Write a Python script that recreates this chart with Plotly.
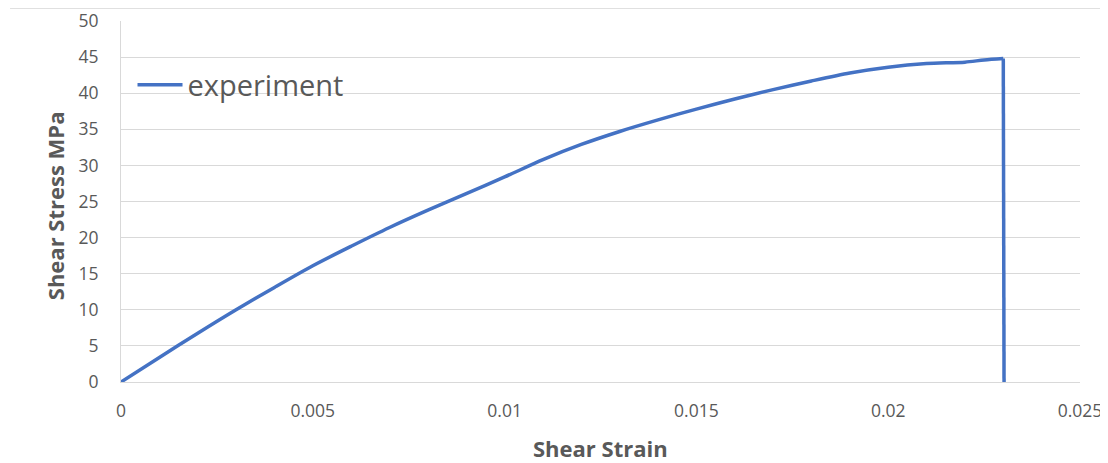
import plotly.graph_objects as go

strain = [0, 0.001, 0.002, 0.003, 0.004, 0.005, 0.006, 0.007, 0.008, 0.009,
          0.010, 0.011, 0.012, 0.013, 0.014, 0.015, 0.016, 0.017, 0.018,
          0.019, 0.020, 0.021, 0.022, 0.0225, 0.0230]
stress = [0, 3.4, 6.75, 10.0, 13.1, 16.1, 18.8, 21.4, 23.8, 26.1,
          28.4, 30.8, 32.9, 34.7, 36.3, 37.8, 39.2, 40.5, 41.7,
          42.8, 43.6, 44.1, 44.3, 44.6, 44.8]
# sudden failure: stress drops to zero
failure_strain = [0.0230, 0.02302]
failure_stress = [44.8, 0]

x_tickvals = [0, 0.005, 0.01, 0.015, 0.02, 0.025]
x_ticktext = ["0", "0.005", "0.01", "0.015", "0.02", "0.025"]
y_tickvals = [0, 5, 10, 15, 20, 25, 30, 35, 40, 45, 50]

series_name = "experiment"
x_title = "Shear Strain"
y_title = "Shear Stress MPa"

grey = "#595959"
grid = "#d9d9d9"
blue = "#4472C4"
font_family = "Open Sans, Noto Sans, sans-serif"

fig = go.Figure()
fig.add_trace(go.Scatter(
    x=strain, y=stress, mode="lines", name=series_name,
    line=dict(color=blue, width=3.5, shape="spline", smoothing=0.8),
))
fig.add_trace(go.Scatter(
    x=failure_strain, y=failure_stress, mode="lines", showlegend=False,
    line=dict(color=blue, width=3.5),
))

fig.update_layout(
    width=1100, height=455,
    margin=dict(l=113, r=28, t=13, b=81),
    paper_bgcolor="white", plot_bgcolor="white",
    font=dict(family=font_family, color=grey),
    showlegend=True,
    legend=dict(
        x=0.012, y=0.823, xanchor="left", yanchor="middle",
        bgcolor="rgba(0,0,0,0)", font=dict(size=29, color=grey),
        itemwidth=45,
    ),
    xaxis=dict(
        range=[0, 0.025], tickvals=x_tickvals, ticktext=x_ticktext,
        showgrid=False, zeroline=False, showline=True, linecolor=grid, linewidth=1,
        tickfont=dict(size=17.5, color=grey), ticklabelstandoff=13,
        automargin=False, fixedrange=True,
    ),
    yaxis=dict(
        range=[0, 50], tickvals=y_tickvals,
        showgrid=True, gridcolor=grid, gridwidth=1,
        zeroline=False, showline=True, linecolor=grid, linewidth=1,
        tickfont=dict(size=17.5, color=grey), ticklabelstandoff=18,
        automargin=False, fixedrange=True,
    ),
    annotations=[
        dict(text="<b>" + x_title + "</b>", xref="paper", yref="paper",
             x=0.4995, y=-0.183, xanchor="center", yanchor="middle",
             showarrow=False, font=dict(size=22, color=grey)),
        dict(text="<b>" + y_title + "</b>", xref="paper", yref="paper",
             x=-0.0688, y=0.487, xanchor="center", yanchor="middle",
             textangle=-90, showarrow=False, font=dict(size=22, color=grey)),
    ],
    shapes=[
        dict(type="line", xref="paper", yref="paper",
             x0=-0.1157, x1=1.03, y0=1.036, y1=1.036,
             line=dict(color="#e0e0e0", width=2)),
    ],
)

fig.write_html("out.html")
